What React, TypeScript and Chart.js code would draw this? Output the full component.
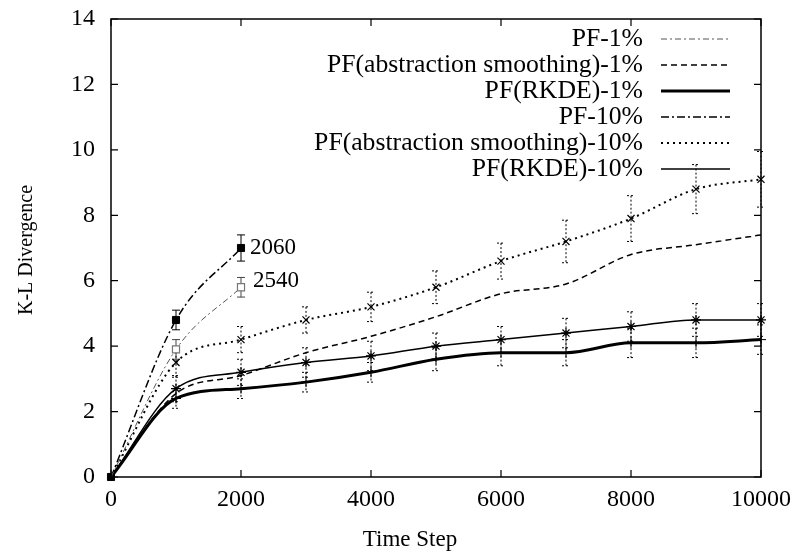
import React, { useEffect, useRef } from "react";
import { Chart, registerables } from "chart.js";

Chart.register(...registerables);

// ---------------- data ----------------
const timeSteps = [0, 1000, 2000, 3000, 4000, 5000, 6000, 7000, 8000, 9000, 10000];
const shortSteps = [0, 1000, 2000];

const pf1 = [0, 3.9, 5.8];
const pf1Err = [0, 0.3, 0.3];
const pf10 = [0, 4.8, 7.0];
const pf10Err = [0, 0.3, 0.4];

const abs1 = [0, 2.55, 3.1, 3.8, 4.3, 4.9, 5.6, 5.9, 6.8, 7.1, 7.4];
const abs10 = [0, 3.5, 4.2, 4.8, 5.2, 5.8, 6.6, 7.2, 7.9, 8.8, 9.1];
const abs10Err = [0, 0.45, 0.4, 0.4, 0.45, 0.5, 0.55, 0.65, 0.7, 0.75, 0.85];

const rkde1 = [0, 2.4, 2.7, 2.9, 3.2, 3.6, 3.8, 3.8, 4.1, 4.1, 4.2];
const rkde1Err = [0, 0.3, 0.3, 0.3, 0.3, 0.35, 0.4, 0.4, 0.45, 0.45, 0.45];
const rkde10 = [0, 2.7, 3.2, 3.5, 3.7, 4.0, 4.2, 4.4, 4.6, 4.8, 4.8];
const rkde10Err = [0, 0.4, 0.4, 0.45, 0.45, 0.4, 0.4, 0.45, 0.45, 0.5, 0.5];

const pf1EndLabel = "2540";
const pf10EndLabel = "2060";

const xTicks = [0, 2000, 4000, 6000, 8000, 10000];
const yTicks = [0, 2, 4, 6, 8, 10, 12, 14];

const seriesNames = [
  "PF-1%",
  "PF(abstraction smoothing)-1%",
  "PF(RKDE)-1%",
  "PF-10%",
  "PF(abstraction smoothing)-10%",
  "PF(RKDE)-10%",
];
const xTitle = "Time Step";
const yTitle = "K-L Divergence";

const FONT = "'Liberation Serif', 'Times New Roman', serif";

const toPts = (xs: number[], ys: number[]) => xs.map((x, i) => ({ x, y: ys[i] }));
const hideOrigin = (r: number) => (c: any) => (c.dataIndex === 0 ? 0 : r);

// ---------------- plugins ----------------
const errorBarPlugin = {
  id: "errorBars",
  beforeDatasetsDraw(chart: any) {
    const ctx = chart.ctx;
    const xs = chart.scales.x;
    const ys = chart.scales.y;
    chart.data.datasets.forEach((ds: any) => {
      if (!ds.errors) return;
      ds.data.forEach((p: any, i: number) => {
        const e = ds.errors[i];
        if (!e) return;
        const px = xs.getPixelForValue(p.x);
        const top = ys.getPixelForValue(p.y + e);
        const bot = ys.getPixelForValue(p.y - e);
        ctx.save();
        ctx.strokeStyle = ds.errColor || "#000";
        ctx.lineWidth = 1;
        ctx.setLineDash(ds.errDash || []);
        ctx.beginPath();
        ctx.moveTo(px, top);
        ctx.lineTo(px, bot);
        ctx.moveTo(px - 4, top);
        ctx.lineTo(px + 4, top);
        ctx.moveTo(px - 4, bot);
        ctx.lineTo(px + 4, bot);
        ctx.stroke();
        ctx.restore();
      });
    });
  },
};

const framePlugin = {
  id: "frame",
  afterDraw(chart: any) {
    const ctx = chart.ctx;
    const a = chart.chartArea;
    const xs = chart.scales.x;
    const ys = chart.scales.y;
    ctx.save();
    ctx.strokeStyle = "#000";
    ctx.lineWidth = 1.5;
    ctx.setLineDash([]);
    ctx.strokeRect(a.left, a.top, a.right - a.left, a.bottom - a.top);
    ctx.lineWidth = 1.2;
    ctx.beginPath();
    const tl = 7;
    xTicks.forEach((v) => {
      const px = xs.getPixelForValue(v);
      ctx.moveTo(px, a.bottom);
      ctx.lineTo(px, a.bottom - tl);
      ctx.moveTo(px, a.top);
      ctx.lineTo(px, a.top + tl);
    });
    yTicks.forEach((v) => {
      const py = ys.getPixelForValue(v);
      ctx.moveTo(a.left, py);
      ctx.lineTo(a.left + tl, py);
      ctx.moveTo(a.right, py);
      ctx.lineTo(a.right - tl, py);
    });
    ctx.stroke();

    ctx.fillStyle = "#000";
    ctx.textBaseline = "middle";

    // axis titles
    ctx.font = `23px ${FONT}`;
    ctx.textAlign = "center";
    ctx.fillText(xTitle, (a.left + a.right) / 2 - 26, a.bottom + 63);
    ctx.save();
    ctx.font = `20px ${FONT}`;
    ctx.translate(a.left - 84, (a.top + a.bottom) / 2 + 2);
    ctx.rotate(-Math.PI / 2);
    ctx.fillText(yTitle, 0, 0);
    ctx.restore();

    // point labels
    ctx.font = `23px ${FONT}`;
    ctx.textAlign = "left";
    chart.data.datasets.forEach((ds: any) => {
      if (!ds.endLabel) return;
      const p = ds.data[ds.data.length - 1];
      const px = xs.getPixelForValue(p.x);
      const py = ys.getPixelForValue(p.y);
      ctx.fillText(ds.endLabel, px + ds.endLabelDx, py + ds.endLabelDy);
    });

    // legend (gnuplot style: right aligned text, sample on right)
    const textRight = a.right - 118;
    const sampleL = a.right - 100;
    const sampleR = a.right - 31;
    const y0 = a.top + 20;
    const dy = 26;
    ctx.font = `25.7px ${FONT}`;
    ctx.textAlign = "right";
    chart.data.datasets.forEach((ds: any, i: number) => {
      const y = y0 + i * dy;
      ctx.fillStyle = "#000";
      ctx.fillText(ds.label, textRight, y);
      ctx.beginPath();
      ctx.strokeStyle = ds.borderColor;
      ctx.lineWidth = ds.borderWidth;
      ctx.setLineDash(ds.borderDash || []);
      ctx.moveTo(sampleL, y);
      ctx.lineTo(sampleR, y);
      ctx.stroke();
    });
    ctx.restore();
  },
};

export default function App() {
  const ref = useRef<HTMLCanvasElement | null>(null);

  useEffect(() => {
    document.body.style.margin = "0";
    const canvas = ref.current;
    if (!canvas) return;

    const common = {
      fill: false,
      cubicInterpolationMode: "monotone" as const,
      clip: false as any,
      pointBackgroundColor: "#000",
    };

    const chart = new Chart(canvas, {
      type: "line",
      data: {
        datasets: [
          {
            ...common,
            label: seriesNames[0],
            data: toPts(shortSteps, pf1),
            borderColor: "#555",
            borderWidth: 1,
            borderDash: [6, 3, 2, 3],
            pointStyle: "rect",
            pointRadius: hideOrigin(5),
            pointBorderColor: "#777",
            pointBackgroundColor: "#fff",
            pointBorderWidth: 1.2,
            errors: pf1Err,
            errColor: "#444",
            errDash: [],
            endLabel: pf1EndLabel,
            endLabelDx: 12,
            endLabelDy: -6,
          } as any,
          {
            ...common,
            label: seriesNames[1],
            data: toPts(timeSteps, abs1),
            borderColor: "#000",
            borderWidth: 1.5,
            borderDash: [6, 4],
            pointRadius: 0,
          } as any,
          {
            ...common,
            label: seriesNames[2],
            data: toPts(timeSteps, rkde1),
            borderColor: "#000",
            borderWidth: 3,
            pointStyle: "cross",
            pointRadius: hideOrigin(5),
            pointBorderColor: "#000",
            pointBorderWidth: 1,
            errors: rkde1Err,
            errColor: "#000",
            errDash: [2, 2],
          } as any,
          {
            ...common,
            label: seriesNames[3],
            data: toPts(shortSteps, pf10),
            borderColor: "#000",
            borderWidth: 1.5,
            borderDash: [8, 3, 2, 3],
            pointStyle: "rect",
            pointRadius: 5,
            pointBorderColor: "#000",
            pointBackgroundColor: "#000",
            pointBorderWidth: 1,
            errors: pf10Err,
            errColor: "#000",
            errDash: [],
            endLabel: pf10EndLabel,
            endLabelDx: 9,
            endLabelDy: 0,
          } as any,
          {
            ...common,
            label: seriesNames[4],
            data: toPts(timeSteps, abs10),
            borderColor: "#000",
            borderWidth: 2,
            borderDash: [2, 4],
            pointStyle: "crossRot",
            pointRadius: hideOrigin(5),
            pointBorderColor: "#000",
            pointBorderWidth: 1.2,
            errors: abs10Err,
            errColor: "#000",
            errDash: [2, 2],
          } as any,
          {
            ...common,
            label: seriesNames[5],
            data: toPts(timeSteps, rkde10),
            borderColor: "#000",
            borderWidth: 1.5,
            pointStyle: "star",
            pointRadius: hideOrigin(5),
            pointBorderColor: "#000",
            pointBorderWidth: 1.2,
            errors: rkde10Err,
            errColor: "#000",
            errDash: [2, 2],
          } as any,
        ],
      },
      options: {
        animation: false,
        responsive: false,
        maintainAspectRatio: false,
        layout: { padding: { left: 0, top: 19, right: 37, bottom: 0 } },
        plugins: {
          legend: { display: false },
          tooltip: { enabled: false },
        },
        scales: {
          x: {
            type: "linear",
            min: 0,
            max: 10000,
            afterBuildTicks: (s: any) => {
              s.ticks = xTicks.map((v) => ({ value: v }));
            },
            afterFit: (s: any) => {
              s.height = 80;
              s.paddingLeft = 0;
              s.paddingRight = 0;
            },
            grid: { display: true, drawOnChartArea: false, drawTicks: false },
            border: { display: false },
            ticks: {
              color: "#000",
              font: { family: FONT, size: 24 },
              padding: 8,
              maxRotation: 0,
              autoSkip: false,
              callback: (v: any) => String(v),
            },
          },
          y: {
            type: "linear",
            min: 0,
            max: 14,
            afterBuildTicks: (s: any) => {
              s.ticks = yTicks.map((v) => ({ value: v }));
            },
            afterFit: (s: any) => {
              s.width = 111;
              s.paddingTop = 0;
              s.paddingBottom = 0;
            },
            grid: { display: true, drawOnChartArea: false, drawTicks: false },
            border: { display: false },
            ticks: {
              color: "#000",
              font: { family: FONT, size: 24 },
              padding: 16,
              autoSkip: false,
              callback: (v: any) => String(v),
            },
          },
        },
      } as any,
      plugins: [errorBarPlugin, framePlugin],
    });

    return () => chart.destroy();
  }, []);

  return (
    <div style={{ width: 798, height: 557 }}>
      <canvas ref={ref} width={798} height={557} style={{ display: "block" }} />
    </div>
  );
}
